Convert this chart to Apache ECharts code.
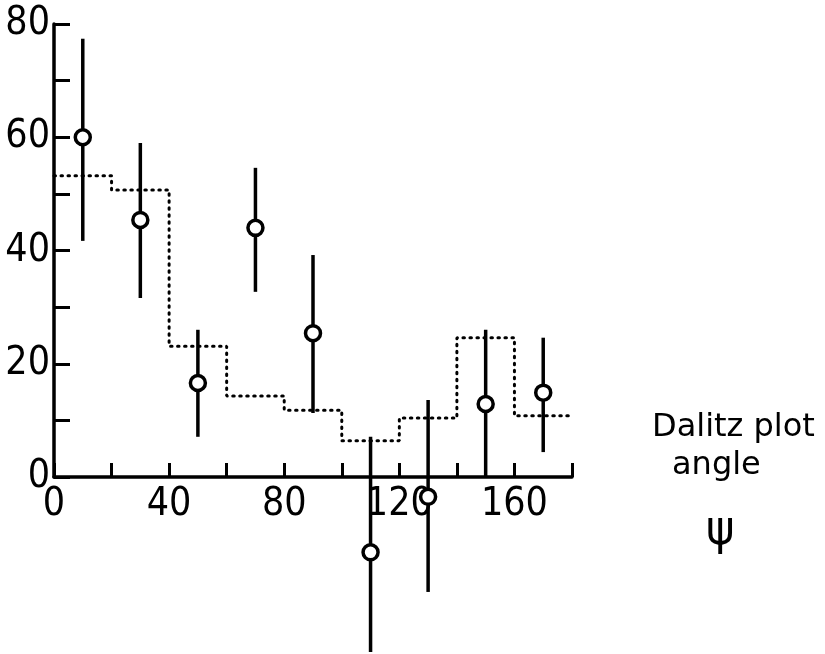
<!DOCTYPE html>
<html>
<head>
<meta charset="utf-8">
<script src="https://cdn.jsdelivr.net/npm/echarts@6/dist/echarts.min.js"></script>
<style>
  html, body { margin: 0; padding: 0; background: #fff; }
  #chart { width: 825px; height: 654px; }
</style>
</head>
<body>
<div id="chart"></div>
<script>
// measured points with error bars
var angles = [10, 30, 50, 70, 90, 110, 130, 150, 170];
var counts = [60, 45.4, 16.6, 44, 25.4, -13.3, -3.5, 12.9, 14.9];
var errLow = [41.7, 31.6, 7.1, 32.7, 11.3, -30.9, -20.3, 0, 4.4];
var errHigh = [77.4, 59, 26, 54.6, 39.2, 7.1, 13.6, 26, 24.6];

// dotted histogram (bin starts, heights)
var binStarts = [0, 20, 40, 60, 80, 100, 120, 140, 160];
var binHeights = [53.2, 50.7, 23.1, 14.3, 11.8, 6.4, 10.4, 24.6, 10.8];
var binWidth = 20;

var xLabels = [0, 40, 80, 120, 160];
var yLabels = [0, 20, 40, 60, 80];

var labelFont = '"DejaVu Sans Condensed", "Liberation Sans Narrow", sans-serif';

var stepData = binStarts.map(function (x, i) { return [x, binHeights[i]]; });
stepData.push([binStarts[binStarts.length - 1] + binWidth, binHeights[binHeights.length - 1]]);

var pointData = angles.map(function (x, i) { return [x, counts[i], errLow[i], errHigh[i]]; });

var chart = echarts.init(document.getElementById('chart'));
chart.setOption({
    animation: false,
    grid: { left: 54, right: 253, top: 24, bottom: 177 },
    xAxis: {
        type: 'value',
        min: 0,
        max: 180,
        interval: 20,
        splitLine: { show: false },
        axisLine: { lineStyle: { color: '#000', width: 3.5 } },
        axisTick: { inside: true, length: 14, lineStyle: { color: '#000', width: 3 } },
        axisLabel: {
            margin: 8,
            color: '#000',
            fontSize: 39,
            fontWeight: 500,
            fontFamily: labelFont,
            formatter: function (v) { return xLabels.indexOf(v) >= 0 ? String(v) : ''; }
        }
    },
    yAxis: {
        type: 'value',
        min: 0,
        max: 80,
        interval: 10,
        splitLine: { show: false },
        axisLine: { lineStyle: { color: '#000', width: 3.5 } },
        axisTick: { inside: true, length: 16, lineStyle: { color: '#000', width: 3 } },
        axisLabel: {
            margin: 4,
            color: '#000',
            fontSize: 39,
            fontWeight: 500,
            fontFamily: labelFont,
            formatter: function (v) { return yLabels.indexOf(v) >= 0 ? String(v) : ''; }
        }
    },
    series: [{
        type: 'line',
        step: 'end',
        data: stepData,
        symbol: 'none',
        lineStyle: { color: '#000', width: 3, type: [1.5, 5.5], cap: 'round' },
        z: 1
    }, {
        type: 'custom',
        clip: false,
        data: pointData,
        renderItem: function (params, api) {
            var x = api.value(0);
            var c = api.coord([x, api.value(1)]);
            var lo = api.coord([x, api.value(2)]);
            var hi = api.coord([x, api.value(3)]);
            return {
                type: 'group',
                children: [{
                    type: 'line',
                    shape: { x1: lo[0], y1: lo[1], x2: hi[0], y2: hi[1] },
                    style: { stroke: '#000', lineWidth: 3.5 }
                }, {
                    type: 'circle',
                    shape: { cx: c[0], cy: c[1], r: 7.5 },
                    style: { fill: '#fff', stroke: '#000', lineWidth: 3.5 }
                }]
            };
        },
        z: 2
    }],
    graphic: [{
        type: 'text', left: 652, top: 412,
        style: { text: 'Dalitz plot', fill: '#000', font: '32px "DejaVu Sans", sans-serif' }
    }, {
        type: 'text', left: 672, top: 450,
        style: { text: 'angle', fill: '#000', font: '32px "DejaVu Sans", sans-serif' }
    }, {
        type: 'text', left: 706, top: 508,
        style: { text: 'ψ', fill: '#000', font: '48px "DejaVu Sans Condensed", sans-serif' }
    }]
});
</script>
</body>
</html>
